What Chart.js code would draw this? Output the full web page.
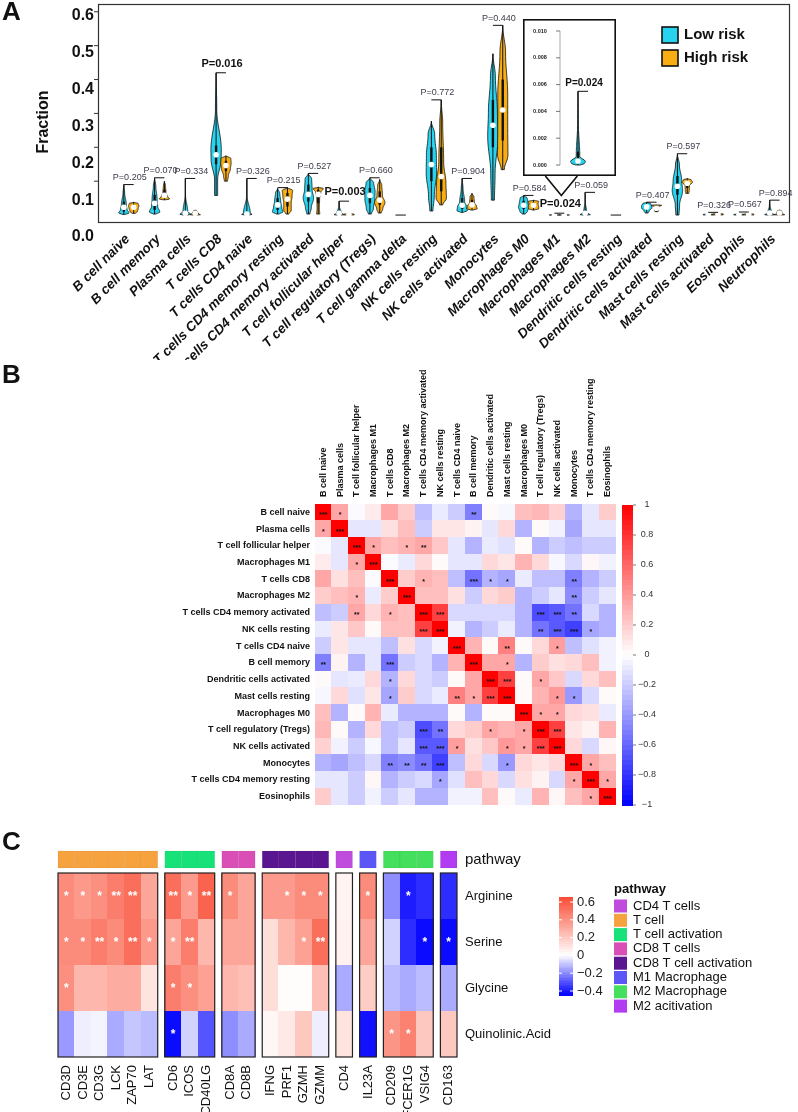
<!DOCTYPE html>
<html>
<head>
<meta charset="utf-8">
<script src="https://cdn.jsdelivr.net/npm/chart.js@4.4.1/dist/chart.umd.min.js"></script>
<style>
  body { margin: 0; background: #fff; width: 798px; height: 1112px; position: relative; overflow: hidden; }
  canvas { position: absolute; }
</style>
</head>
<body>
<canvas id="violinChart" width="798" height="360" style="left:0;top:0"></canvas>
<canvas id="insetChart" width="93" height="157" style="left:523px;top:19px"></canvas>
<canvas id="corrChart" width="798" height="460" style="left:0;top:360px"></canvas>
<canvas id="pathwayChart" width="798" height="292" style="left:0;top:820px"></canvas>
<script>
const FONT = '"Liberation Sans", Arial, sans-serif';

// ---------- Panel A: immune cell fractions ----------
const cellTypes = ['B cell naive', 'B cell memory', 'Plasma cells', 'T cells CD8', 'T cells CD4 naive',
  'T cells CD4 memory resting', 'T cells CD4 memory activated', 'T cell follicular helper',
  'T cell regulatory (Tregs)', 'T cell gamma delta', 'NK cells resting', 'NK cells activated', 'Monocytes',
  'Macrophages M0', 'Macrophages M1', 'Macrophages M2', 'Dendritic cells resting', 'Dendritic cells activated',
  'Mast cells resting', 'Mast cells activated', 'Eosinophils', 'Neutrophils'];
// [min, q1, median, q3, max]
const lowRisk = [
  [0.002, 0.010, 0.023, 0.040, 0.090], [0.003, 0.015, 0.035, 0.060, 0.110], [0, 0.002, 0.005, 0.012, 0.108],
  [0.058, 0.150, 0.178, 0.205, 0.420], [0, 0.001, 0.003, 0.008, 0.108], [0.003, 0.015, 0.030, 0.050, 0.079],
  [0.003, 0.040, 0.061, 0.090, 0.123], [0, 0.002, 0.005, 0.010, 0.041], [0.003, 0.035, 0.058, 0.080, 0.110],
  [0, 0, 0, 0, 0], [0.012, 0.100, 0.149, 0.200, 0.277], [0.008, 0.018, 0.029, 0.050, 0.108],
  [0.044, 0.200, 0.265, 0.340, 0.476], [0.003, 0.018, 0.029, 0.042, 0.058], [0, 0.0002, 0.0003, 0.001, 0.0055],
  [0, 0.002, 0.005, 0.012, 0.067], [0, 0, 0, 0, 0], [0.006, 0.018, 0.024, 0.030, 0.038],
  [0, 0.060, 0.085, 0.115, 0.181], [0, 0.001, 0.002, 0.004, 0.008], [0, 0.001, 0.002, 0.004, 0.009],
  [0, 0.002, 0.006, 0.012, 0.044]
];
const highRisk = [
  [0.005, 0.015, 0.023, 0.030, 0.038], [0.045, 0.050, 0.058, 0.075, 0.100], [0, 0.002, 0.005, 0.009, 0.015],
  [0.100, 0.130, 0.146, 0.160, 0.175], null, [0.003, 0.025, 0.047, 0.065, 0.081],
  [0.003, 0.035, 0.061, 0.075, 0.082], [0, 0.001, 0.002, 0.003, 0.005], [0.006, 0.030, 0.044, 0.070, 0.105],
  null, [0.030, 0.070, 0.114, 0.200, 0.340], [0.015, 0.022, 0.030, 0.045, 0.064],
  [0.134, 0.220, 0.310, 0.400, 0.560], [0.015, 0.022, 0.029, 0.037, 0.044], [0, 0.0002, 0.0004, 0.001, 0.002],
  null, null, [0.010, 0.015, 0.020, 0.028, 0.030],
  [0.064, 0.080, 0.094, 0.100, 0.108], [0, 0.001, 0.002, 0.003, 0.004], [0, 0.001, 0.002, 0.003, 0.005],
  [0, 0.002, 0.006, 0.010, 0.015]
];
const pLabels = ['0.205', '0.070', '0.334', '0.016', '0.326', '0.215', '0.527', '0.003', '0.660', null, '0.772',
  '0.904', '0.440', '0.584', '0.024', '0.059', null, '0.407', '0.597', '0.326', '0.567', '0.894'];
const fractionTicks = [0, 0.1, 0.2, 0.3, 0.4, 0.5, 0.6];
const insetTicks = [0, 0.002, 0.004, 0.006, 0.008, 0.010];
const riskGroups = ['Low risk', 'High risk'];
const riskColors = ['#27D3EF', '#F8AE12'];

function drawText(ctx, text, x, y, font, color, align, baseline, angle) {
  ctx.save();
  ctx.translate(x, y);
  if (angle) ctx.rotate(angle);
  ctx.font = font;
  ctx.fillStyle = color;
  ctx.textAlign = align || 'left';
  ctx.textBaseline = baseline || 'middle';
  ctx.fillText(text, 0, 0);
  ctx.restore();
}

function line(ctx, x0, y0, x1, y1, color, width) {
  ctx.beginPath();
  ctx.moveTo(x0, y0);
  ctx.lineTo(x1, y1);
  ctx.strokeStyle = color;
  ctx.lineWidth = width;
  ctx.stroke();
}

// violin outline: width follows the share of samples per quantile interval
function drawViolin(ctx, cx, q, yScale, halfW, fill) {
  const mn = q[0], mx = q[4];
  const yTop = yScale.getPixelForValue(mx), yBot = yScale.getPixelForValue(mn);
  ctx.save();
  if (yBot - yTop < 0.5) {
    line(ctx, cx - halfW, yBot, cx + halfW, yBot, '#111', 1);
    ctx.restore();
    return;
  }
  const dens = [];
  for (let k = 0; k < 4; k++) dens.push(1 / Math.max(q[k + 1] - q[k], (mx - mn) * 0.03));
  const dmax = Math.max(...dens);
  const knots = [[mn, 0.3]];
  for (let k = 0; k < 4; k++) knots.push([(q[k] + q[k + 1]) / 2, dens[k] / dmax]);
  knots.push([mx, 0]);
  const pts = [];
  const steps = 60;
  for (let s = 0; s <= steps; s++) {
    const v = mn + (mx - mn) * s / steps;
    let w = 0;
    for (let k = 0; k < knots.length - 1; k++) {
      const a = knots[k], b = knots[k + 1];
      if (v >= a[0] && v <= b[0]) {
        const t = b[0] > a[0] ? (v - a[0]) / (b[0] - a[0]) : 1;
        w = a[1] + (b[1] - a[1]) * (1 - Math.cos(Math.PI * t)) / 2;
        break;
      }
    }
    pts.push([yScale.getPixelForValue(v), w * halfW]);
  }
  ctx.beginPath();
  pts.forEach(([py, w], i) => (i ? ctx.lineTo(cx + w, py) : ctx.moveTo(cx + w, py)));
  for (let i = pts.length - 1; i >= 0; i--) ctx.lineTo(cx - pts[i][1], pts[i][0]);
  ctx.closePath();
  ctx.fillStyle = fill;
  ctx.fill();
  ctx.strokeStyle = '#111';
  ctx.lineWidth = 0.8;
  ctx.stroke();
  // inner box plot
  line(ctx, cx, yTop, cx, yBot, '#111', 1);
  line(ctx, cx, yScale.getPixelForValue(q[3]), cx, yScale.getPixelForValue(q[1]), '#111', 2.4);
  ctx.restore();
}

const violinPlugin = {
  id: 'violins',
  beforeDatasetsDraw(chart) {
    const { ctx, scales: { x, y } } = chart;
    chart.data.datasets.forEach(ds => {
      ds.quantiles.forEach((q, i) => {
        if (!q) return;
        drawViolin(ctx, x.getPixelForValue(ds.positions[i] + ds.shift), q, y, ds.halfWidth, ds.fillColor);
      });
    });
  }
};

function medianPoints(groups, positions, shift) {
  const pts = [];
  groups.forEach((q, i) => {
    if (q && q[4] > q[0]) pts.push({ x: positions[i] + shift, y: q[2] });
  });
  return pts;
}

const violinFrame = {
  id: 'violinFrame',
  afterDraw(chart) {
    const { ctx, chartArea: a, scales: { x, y } } = chart;
    ctx.save();
    ctx.strokeStyle = '#333';
    ctx.lineWidth = 1.2;
    ctx.strokeRect(a.left + 0.5, a.top + 0.5, a.right - a.left - 1, a.bottom - a.top);

    fractionTicks.forEach(v => {
      const py = y.getPixelForValue(v);
      if (v > 0) line(ctx, a.left - 4, py, a.left, py, '#333', 1);
      drawText(ctx, v.toFixed(1), a.left - 4, py + 4 + (0.6 - v) * 30, 'bold 16px ' + FONT, '#111', 'right', 'middle');
    });
    drawText(ctx, 'Fraction', 44, 122, 'bold 16px ' + FONT, '#111', 'center', 'middle', -Math.PI / 2);

    cellTypes.forEach((name, i) => {
      drawText(ctx, name, x.getPixelForValue(i) - 1, a.bottom + 15, 'italic bold 13.5px ' + FONT, '#111',
        'right', 'middle', -Math.PI / 4);
    });

    pLabels.forEach((p, i) => {
      if (!p) return;
      const top = Math.max(...[lowRisk[i], highRisk[i]].filter(Boolean).map(q => q[4]));
      const by = y.getPixelForValue(top);
      const x0 = x.getPixelForValue(i - 0.16), x1 = x.getPixelForValue(i + 0.16);
      line(ctx, x0, by, x1, by, '#111', 1);
      const sig = parseFloat(p) < 0.05;
      drawText(ctx, 'P=' + p, (x0 + x1) / 2 + 1, by - (sig ? 9 : 7),
        sig ? 'bold 11px ' + FONT : '9px ' + FONT, sig ? '#111' : '#3b3b4b', 'center', 'middle');
    });

    // callout from the inset down to Macrophages M1
    const ax = x.getPixelForValue(14) + 2, ay = y.getPixelForValue(0.058), armY = y.getPixelForValue(0.115);
    ctx.beginPath();
    ctx.moveTo(ax - 16, armY);
    ctx.lineTo(ax, ay);
    ctx.lineTo(ax + 16, armY);
    ctx.strokeStyle = '#111';
    ctx.lineWidth = 1.6;
    ctx.stroke();

    // legend
    riskGroups.forEach((g, k) => {
      const ly = 27 + k * 23;
      ctx.fillStyle = riskColors[k];
      ctx.fillRect(662, ly, 16, 16);
      ctx.strokeStyle = '#111';
      ctx.lineWidth = 1.6;
      ctx.strokeRect(662, ly, 16, 16);
      drawText(ctx, g, 684, ly + 8, 'bold 15px ' + FONT, '#111', 'left', 'middle');
    });
    drawText(ctx, 'A', 2, 20, 'bold 26px ' + FONT, '#111', 'left', 'alphabetic');
    ctx.restore();
  }
};

const positionsA = cellTypes.map((_, i) => i);
new Chart(document.getElementById('violinChart'), {
  type: 'scatter',
  data: {
    datasets: [
      { label: 'Low risk', data: medianPoints(lowRisk, positionsA, -0.16), quantiles: lowRisk, positions: positionsA,
        shift: -0.16, halfWidth: 5.2, fillColor: riskColors[0], pointRadius: 2.8, pointBackgroundColor: '#fff', pointBorderWidth: 0 },
      { label: 'High risk', data: medianPoints(highRisk, positionsA, 0.16), quantiles: highRisk, positions: positionsA,
        shift: 0.16, halfWidth: 5.2, fillColor: riskColors[1], pointRadius: 2.8, pointBackgroundColor: '#fff', pointBorderWidth: 0 }
    ]
  },
  options: {
    responsive: false, animation: false, devicePixelRatio: 1, events: [],
    layout: { padding: { left: 98, right: 8, top: 2, bottom: 138 } },
    plugins: { legend: { display: false }, tooltip: { enabled: false } },
    scales: {
      x: { type: 'linear', min: -1, max: 21.5, display: false },
      y: { type: 'linear', min: -0.0205, max: 0.623, display: false }
    }
  },
  plugins: [violinPlugin, violinFrame]
});

// inset: zoom on Macrophages M1 low risk
const insetFrame = {
  id: 'insetFrame',
  beforeDraw(chart) {
    const { ctx, width, height } = chart;
    ctx.save();
    ctx.fillStyle = '#fff';
    ctx.fillRect(0, 0, width, height);
    ctx.restore();
  },
  afterDraw(chart) {
    const { ctx, width, height, chartArea: a, scales: { x, y } } = chart;
    ctx.save();
    ctx.strokeStyle = '#111';
    ctx.lineWidth = 1.6;
    ctx.strokeRect(0.8, 0.8, width - 1.6, height - 1.6);
    line(ctx, a.left, y.getPixelForValue(0.010), a.left, y.getPixelForValue(0), '#aaa', 1);
    insetTicks.forEach(v => {
      const py = y.getPixelForValue(v);
      line(ctx, a.left - 4, py, a.left, py, '#555', 0.8);
      drawText(ctx, v.toFixed(3), 17, py, 'bold 5.5px ' + FONT, '#222', 'center', 'middle');
    });
    const q = lowRisk[14];
    const by = y.getPixelForValue(q[4]);
    const x0 = x.getPixelForValue(0);
    line(ctx, x0, by, x0 + 10, by, '#111', 1);
    drawText(ctx, 'P=0.024', x0 + 6, by - 8, 'bold 10px ' + FONT, '#111', 'center', 'middle');
    ctx.restore();
  }
};

new Chart(document.getElementById('insetChart'), {
  type: 'scatter',
  data: {
    datasets: [{ data: medianPoints([lowRisk[14]], [0], 0), quantiles: [lowRisk[14]], positions: [0], shift: 0,
      halfWidth: 7.5, fillColor: riskColors[0], pointRadius: 2.8, pointBackgroundColor: '#fff', pointBorderWidth: 0 }]
  },
  options: {
    responsive: false, animation: false, devicePixelRatio: 1, events: [],
    layout: { padding: { left: 37, right: 20, top: 12, bottom: 11 } },
    plugins: { legend: { display: false }, tooltip: { enabled: false } },
    scales: {
      x: { type: 'linear', min: -1, max: 1, display: false },
      y: { type: 'linear', min: 0, max: 0.010, display: false }
    }
  },
  plugins: [violinPlugin, insetFrame]
});

// ---------- Panel B: correlation between immune cells ----------
const corrCells = ['B cell naive', 'Plasma cells', 'T cell follicular helper', 'Macrophages M1', 'T cells CD8',
  'Macrophages M2', 'T cells CD4 memory activated', 'NK cells resting', 'T cells CD4 naive', 'B cell memory',
  'Dendritic cells activated', 'Mast cells resting', 'Macrophages M0', 'T cell regulatory (Tregs)',
  'NK cells activated', 'Monocytes', 'T cells CD4 memory resting', 'Eosinophils'];
const corrMatrix = [
  [1, .35, -.02, .08, .35, .2, -.25, -.08, -.2, -.5, .02, -.03, .25, .28, .18, -.3, -.1, .2],
  [.35, 1, -.1, -.1, .12, .25, -.2, .1, .1, .05, -.1, .15, -.3, .02, -.05, -.35, -.1, -.1],
  [-.02, -.1, 1, .35, .25, .3, .35, .22, -.1, -.3, -.08, -.12, .02, -.3, -.2, -.25, -.2, -.2],
  [.08, -.1, .35, 1, -.02, -.08, .15, .02, -.1, -.1, .15, .1, .3, .15, -.03, -.15, .03, -.05],
  [.35, .12, .25, -.02, 1, .2, .3, .25, -.25, -.55, -.3, -.35, -.08, -.25, -.25, -.5, -.3, -.2],
  [.2, .25, .3, -.08, .2, 1, .25, .25, .12, -.2, .15, .2, -.3, -.2, -.1, -.45, -.2, -.1],
  [-.25, -.2, .35, .15, .3, .25, 1, .75, -.15, -.15, -.15, -.15, -.3, -.7, -.65, -.55, -.15, -.3],
  [-.08, .1, .22, .02, .25, .25, .75, 1, -.05, -.3, -.2, -.08, -.3, -.55, -.65, -.75, -.35, -.3],
  [-.2, .1, -.1, -.1, -.25, .12, -.15, -.05, 1, .3, .02, .5, .02, .15, .38, -.25, -.12, -.05],
  [-.5, .05, -.3, -.1, -.55, -.2, -.15, -.3, .3, 1, .35, .35, -.3, .2, .12, .15, .25, -.05],
  [.02, -.1, -.08, .15, -.3, .15, -.15, -.2, .02, .35, 1, .75, .02, .35, .22, -.15, .15, .25],
  [-.03, .15, -.12, .1, -.35, .2, -.15, -.08, .5, .35, .75, 1, .02, .3, .4, -.4, -.15, .02],
  [.25, -.3, .02, .3, -.08, -.3, -.3, -.3, .02, -.3, .02, .02, 1, .35, .35, .15, .12, -.08],
  [.28, .02, -.3, .15, -.25, -.2, -.7, -.55, .15, .2, .35, .3, .35, 1, .75, .1, .05, .3],
  [.18, -.05, -.2, -.03, -.25, -.1, -.65, -.65, .38, .12, .22, .4, .35, .75, 1, .15, -.15, .03],
  [-.3, -.35, -.25, -.15, -.5, -.45, -.55, -.75, -.25, .15, -.15, -.4, .15, .1, .15, 1, .35, .25],
  [-.1, -.1, -.2, .03, -.3, -.2, -.15, -.35, -.12, .25, .15, -.15, .12, .05, -.15, .35, 1, .35],
  [.2, -.1, -.2, -.05, -.2, -.1, -.3, -.3, -.05, -.05, .25, .02, -.08, .3, .03, .25, .35, 1]
];
// number of stars per cell
const corrSig = [
  '310000000200000000', '130000000000000000', '003101200000000000', '001300000000000000',
  '000030100311000200', '001003000000000200', '002010330000033200', '000000330000023310',
  '000000003002001000', '200030000301000000', '000010000033010000', '000010002133001100',
  '000000000000311000', '000000320010133000', '000000331001133000', '000022230001000310',
  '000000010000000131', '000000000000000013'
];
const corrTicks = [1, 0.8, 0.6, 0.4, 0.2, 0, -0.2, -0.4, -0.6, -0.8, -1];

function corrColor(v) {
  const t = Math.max(-1, Math.min(1, v));
  if (t >= 0) {
    const c = Math.round(255 * (1 - t));
    return `rgb(255,${c},${c})`;
  }
  const c = Math.round(255 * (1 + t));
  return `rgb(${c},${c},255)`;
}

function fmtTick(v) {
  const s = Math.abs(v) < 1e-9 ? '0' : String(Math.round(v * 10) / 10);
  return s.replace('-', '\u2212');
}

const corrPlugin = {
  id: 'corrCells',
  beforeDatasetsDraw(chart) {
    const { ctx, scales: { x, y } } = chart;
    corrMatrix.forEach((row, i) => row.forEach((v, j) => {
      const x0 = x.getPixelForValue(j - 0.5), x1 = x.getPixelForValue(j + 0.5);
      const y0 = y.getPixelForValue(i - 0.5), y1 = y.getPixelForValue(i + 0.5);
      ctx.fillStyle = corrColor(v);
      ctx.fillRect(Math.floor(x0), Math.floor(y0), Math.ceil(x1) - Math.floor(x0), Math.ceil(y1) - Math.floor(y0));
    }));
  },
  afterDraw(chart) {
    const { ctx, chartArea: a, scales: { x, y } } = chart;
    ctx.save();
    corrSig.forEach((row, i) => row.split('').forEach((n, j) => {
      if (n === '0') return;
      drawText(ctx, '*'.repeat(+n), x.getPixelForValue(j), y.getPixelForValue(i) + 2.5, 'bold 7px ' + FONT, '#111', 'center', 'middle');
    }));
    corrCells.forEach((name, i) => {
      drawText(ctx, name, a.left - 5, y.getPixelForValue(i), 'bold 9px ' + FONT, '#111', 'right', 'middle');
      drawText(ctx, name, x.getPixelForValue(i), a.top - 7, 'bold 9px ' + FONT, '#111', 'left', 'middle', -Math.PI / 2);
    });
    // colour key
    const cx0 = a.right + 6, cw = 11, top = a.top + 1, bottom = a.bottom;
    const bands = 60;
    for (let k = 0; k < bands; k++) {
      const v = 1 - 2 * (k + 0.5) / bands;
      ctx.fillStyle = corrColor(v);
      const y0 = top + (bottom - top) * k / bands;
      ctx.fillRect(cx0, Math.floor(y0), cw, Math.ceil((bottom - top) / bands) + 1);
    }
    corrTicks.forEach(v => {
      const py = top + (1 - v) / 2 * (bottom - top);
      line(ctx, cx0 + cw, py, cx0 + cw + 3, py, '#555', 0.8);
      drawText(ctx, fmtTick(v), cx0 + 25, py, '9px ' + FONT, '#333', 'center', 'middle');
    });
    drawText(ctx, 'B', 2, 23, 'bold 26px ' + FONT, '#111', 'left', 'alphabetic');
    ctx.restore();
  }
};

const corrPoints = [];
corrMatrix.forEach((row, i) => row.forEach((v, j) => corrPoints.push({ x: j, y: i })));
new Chart(document.getElementById('corrChart'), {
  type: 'scatter',
  data: { datasets: [{ data: corrPoints, pointRadius: 0 }] },
  options: {
    responsive: false, animation: false, devicePixelRatio: 1, events: [],
    layout: { padding: { left: 315, right: 182, top: 144, bottom: 15 } },
    plugins: { legend: { display: false }, tooltip: { enabled: false } },
    scales: {
      x: { type: 'linear', min: -0.5, max: 17.5, display: false },
      y: { type: 'linear', min: -0.5, max: 17.5, reverse: true, display: false }
    }
  },
  plugins: [corrPlugin]
});

// ---------- Panel C: metabolites vs immune genes ----------
const genes = ['CD3D', 'CD3E', 'CD3G', 'LCK', 'ZAP70', 'LAT', 'CD6', 'ICOS', 'CD40LG', 'CD8A', 'CD8B',
  'IFNG', 'PRF1', 'GZMH', 'GZMM', 'CD4', 'IL23A', 'CD209', 'FCER1G', 'VSIG4', 'CD163'];
const pathways = ['CD4 T cells', 'T cell', 'T cell activation', 'CD8 T cells', 'CD8 T cell activation',
  'M1 Macrophage', 'M2 Macrophage', 'M2 acitivation'];
const pathwayColors = ['#C04CDD', '#F6A23E', '#17E27A', '#DA4FB6', '#5A1690', '#5B56F5', '#44DF5C', '#B13CF1'];
const genePathway = [1, 1, 1, 1, 1, 1, 2, 2, 2, 3, 3, 4, 4, 4, 4, 0, 5, 6, 6, 6, 7];
const metabolites = ['Arginine', 'Serine', 'Glycine', 'Quinolinic.Acid'];
const arginineCorr = [.42, .37, .4, .47, .52, .32, .52, .36, .56, .42, .32, .36, .36, .42, .42, .04, .42, -.2, -.4, -.37, -.37];
const serineCorr = [.42, .42, .47, .42, .52, .37, .32, .47, .26, .32, .32, .12, .26, .34, .52, .05, .32, -.08, -.37, -.43, -.43];
const glycineCorr = [.4, .26, .26, .3, .3, .1, .47, .4, .34, .26, .23, .12, .01, .01, .23, -.15, .18, -.12, -.15, -.12, -.15];
const quinolinicCorr = [-.18, -.03, -.02, -.15, -.1, -.12, -.43, -.08, -.3, -.2, -.15, .03, .08, .2, -.03, .1, -.42, .38, .45, .2, .2];
const arginineSig = '111220212100111010100';
const serineSig = '112121120000012000011';
const glycineSig = '100000110000000000000';
const quinolinicSig = '000000100000000001100';
const pathCorr = [arginineCorr, serineCorr, glycineCorr, quinolinicCorr];
const pathSig = [arginineSig, serineSig, glycineSig, quinolinicSig];
const keyTicks = [0.6, 0.4, 0.2, 0, -0.2, -0.4];

const groupGap = 0.43;
const geneStart = [];
const geneBlocks = [];
genePathway.forEach((p, k) => {
  const newBlock = k === 0 || p !== genePathway[k - 1];
  if (newBlock) geneBlocks.push({ first: k, last: k, pathway: p });
  else geneBlocks[geneBlocks.length - 1].last = k;
  geneStart.push(k + groupGap * (geneBlocks.length - 1));
});

function pathColor(v) {
  if (v >= 0) {
    const t = Math.min(v / 0.65, 1);
    return `rgb(${Math.round(255 - 6 * t)},${Math.round(255 - 180 * t)},${Math.round(255 - 205 * t)})`;
  }
  const t = Math.min(-v / 0.45, 1);
  const c = Math.round(255 * (1 - t));
  return `rgb(${c},${c},255)`;
}

const pathwayPlugin = {
  id: 'pathwayCells',
  beforeDatasetsDraw(chart) {
    const { ctx, scales: { x, y } } = chart;
    pathCorr.forEach((row, r) => row.forEach((v, k) => {
      const x0 = x.getPixelForValue(geneStart[k]), x1 = x.getPixelForValue(geneStart[k] + 1);
      const y0 = y.getPixelForValue(r), y1 = y.getPixelForValue(r + 1);
      ctx.fillStyle = pathColor(v);
      ctx.fillRect(Math.floor(x0), Math.floor(y0), Math.ceil(x1) - Math.floor(x0), Math.ceil(y1) - Math.floor(y0));
    }));
  },
  afterDraw(chart) {
    const { ctx, chartArea: a, scales: { x, y } } = chart;
    ctx.save();
    // annotation bar
    genes.forEach((g, k) => {
      const x0 = x.getPixelForValue(geneStart[k]), x1 = x.getPixelForValue(geneStart[k] + 1);
      ctx.fillStyle = pathwayColors[genePathway[k]];
      ctx.fillRect(x0, a.top - 22, x1 - x0, 17);
      ctx.strokeStyle = 'rgba(0,0,0,0.08)';
      ctx.lineWidth = 0.6;
      ctx.strokeRect(x0, a.top - 22, x1 - x0, 17);
    });
    // block borders
    geneBlocks.forEach(b => {
      const x0 = x.getPixelForValue(geneStart[b.first]), x1 = x.getPixelForValue(geneStart[b.last] + 1);
      ctx.strokeStyle = '#222';
      ctx.lineWidth = 1.2;
      ctx.strokeRect(x0, a.top, x1 - x0, a.bottom - a.top);
    });
    pathSig.forEach((row, r) => row.split('').forEach((n, k) => {
      if (n === '0') return;
      drawText(ctx, '*'.repeat(+n), x.getPixelForValue(geneStart[k] + 0.5), y.getPixelForValue(r + 0.5) + 1,
        'bold 12px ' + FONT, '#fff', 'center', 'middle');
    }));
    metabolites.forEach((m, r) => {
      drawText(ctx, m, a.right + 8, y.getPixelForValue(r + 0.5), '13px ' + FONT, '#111', 'left', 'middle');
    });
    drawText(ctx, 'pathway', a.right + 8, a.top - 13, '15px ' + FONT, '#111', 'left', 'middle');
    genes.forEach((g, k) => {
      drawText(ctx, g, x.getPixelForValue(geneStart[k] + 0.5), a.bottom + 8, '13px ' + FONT, '#111', 'right', 'middle', -Math.PI / 2);
    });
    // colour key
    const kx = 559, kw = 14;
    const keyY = v => 82 + (0.6 - v) * 89;
    const vTop = 0.656, vBot = -0.445, bands = 60;
    for (let k = 0; k < bands; k++) {
      const v = vTop - (vTop - vBot) * (k + 0.5) / bands;
      const y0 = keyY(vTop) + (keyY(vBot) - keyY(vTop)) * k / bands;
      ctx.fillStyle = pathColor(v);
      ctx.fillRect(kx, Math.floor(y0), kw, Math.ceil((keyY(vBot) - keyY(vTop)) / bands) + 1);
    }
    keyTicks.forEach(v => {
      const py = keyY(v);
      line(ctx, kx, py, kx + 3, py, '#fff', 1);
      line(ctx, kx + kw - 3, py, kx + kw, py, '#fff', 1);
      drawText(ctx, fmtTick(v), kx + kw + 4, py, '13px ' + FONT, '#222', 'left', 'middle');
    });
    // legend
    drawText(ctx, 'pathway', 614, 69, 'bold 13px ' + FONT, '#111', 'left', 'middle');
    pathways.forEach((p, k) => {
      const ly = 86 + k * 14.3;
      ctx.fillStyle = pathwayColors[k];
      ctx.fillRect(614, ly - 6.5, 13, 13);
      drawText(ctx, p, 633, ly, '13px ' + FONT, '#111', 'left', 'middle');
    });
    drawText(ctx, 'C', 2, 30, 'bold 26px ' + FONT, '#111', 'left', 'alphabetic');
    ctx.restore();
  }
};

const pathPoints = [];
pathCorr.forEach((row, r) => row.forEach((v, k) => pathPoints.push({ x: geneStart[k] + 0.5, y: r + 0.5 })));
new Chart(document.getElementById('pathwayChart'), {
  type: 'scatter',
  data: { datasets: [{ data: pathPoints, pointRadius: 0 }] },
  options: {
    responsive: false, animation: false, devicePixelRatio: 1, events: [],
    layout: { padding: { left: 58, right: 341, top: 53, bottom: 55 } },
    plugins: { legend: { display: false }, tooltip: { enabled: false } },
    scales: {
      x: { type: 'linear', min: 0, max: genes.length + groupGap * (geneBlocks.length - 1), display: false },
      y: { type: 'linear', min: 0, max: metabolites.length, reverse: true, display: false }
    }
  },
  plugins: [pathwayPlugin]
});
</script>
</body>
</html>
